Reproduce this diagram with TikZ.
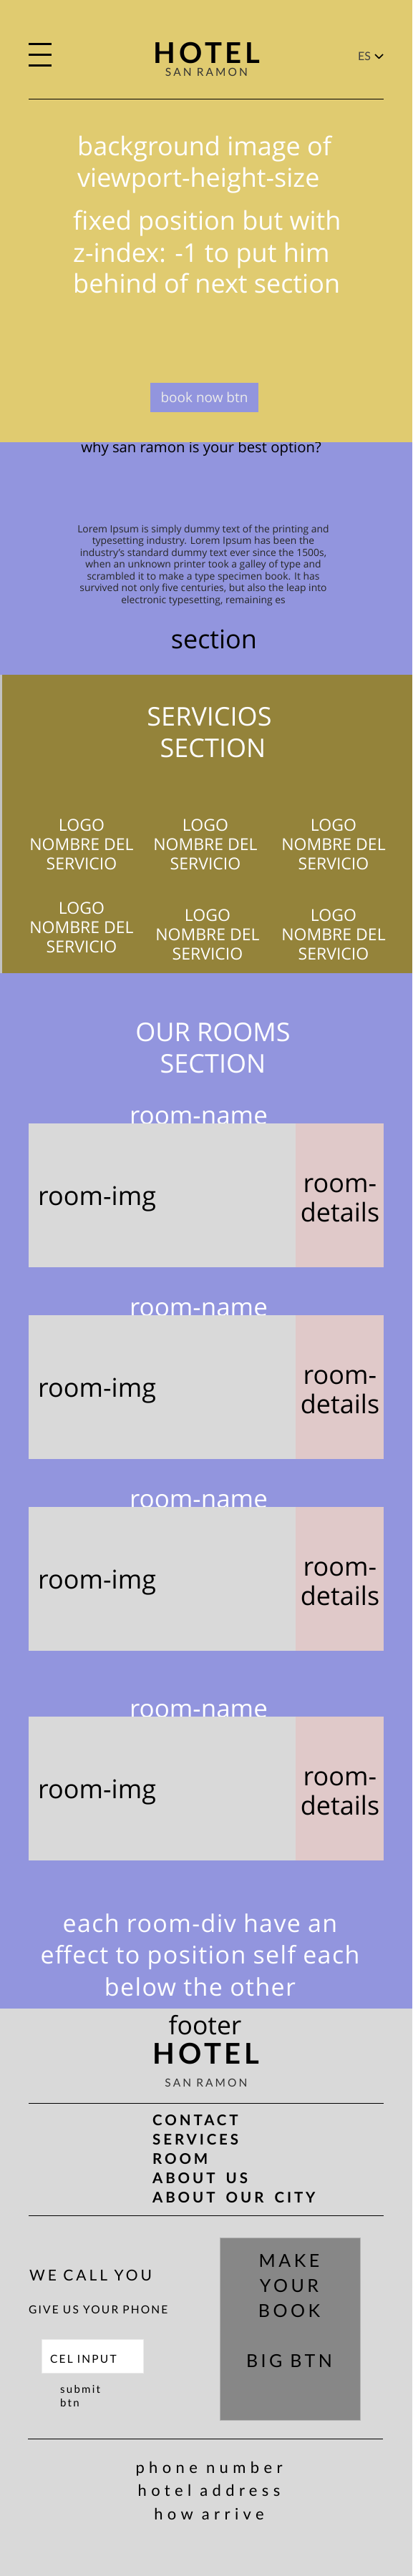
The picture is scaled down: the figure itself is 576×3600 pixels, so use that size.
\documentclass[tikz,border=0pt]{standalone}
\usepackage{fontspec}
\setmainfont{Open Sans}
\newfontfamily\nunito{Lato}
\newfontfamily\menufont{Lato}[LetterSpace=19,WordSpace=1.7]
\usetikzlibrary{positioning}

\definecolor{hero}{HTML}{E0CB70}
\definecolor{lila}{HTML}{9295DE}
\definecolor{olive}{HTML}{94833A}
\definecolor{roomgray}{HTML}{D9D9D9}
\definecolor{roompink}{HTML}{E0C9C9}
\definecolor{bigbtn}{HTML}{878787}

\newcommand\fsz[2]{\fontsize{#1}{#2}\selectfont}
\newcommand\spaced[1]{\addfontfeatures{LetterSpace=#1}}

\tikzset{
  txt/.style={inner sep=0pt, anchor=base},
  herotxt/.style={txt, anchor=base west, text=white, font=\fsz{36}{44}},
  logotxt/.style={txt, text=white, font=\fsz{23}{27}},
  titletxt/.style={txt, text=white, font=\fsz{36}{44}},
  roomname/.style={txt, text=white, font=\fsz{35}{40}},
  roomtxt/.style={txt, font=\fsz{36}{40}},
  menutxt/.style={txt, anchor=base west, font=\menufont\bfseries\fsz{20.5}{27}},
  calltxt/.style={txt, anchor=base west, font=\nunito\spaced{14}\fsz{15.5}{18}},
  bigtxt/.style={txt, font=\nunito\spaced{18}\fsz{25}{30}},
  contacttxt/.style={txt, font=\nunito\spaced{29}\fsz{22}{32}},
}

\begin{document}
\begin{tikzpicture}[x=1pt, y=-1pt]

\useasboundingbox (0,0) rectangle (576,3600);

\fill[lila] (0,618) rectangle (576,943);
\node[txt, font=\fsz{20.3}{24}] (why) at (281,632) {why san ramon is your best option?};
\fill[hero] (0,0) rectangle (576,618);

\foreach \y in {61,76,91}
\draw[line width=3pt] (40,\y) -- (72,\y);
\node[txt, font=\nunito\bfseries\spaced{12}\fsz{40}{40}] (hotel) at (289,88) {HOTEL};
\node[txt, text=black!80, font=\nunito\spaced{20}\fsz{15.5}{16}] (sanramon) at (288.5,106) {SAN RAMON};
\node[txt, anchor=base west, text=black!75, font=\nunito\fsz{16}{16}] (lang) at (500,84) {ES};
\draw[line width=1.6pt, line join=round] (524,76) -- (529.5,81.5) -- (535,76);
\draw[line width=0.8pt] (40,138) -- (536,138);

\foreach \y/\t in {217/background image of, 261/viewport-height-size}
\node[herotxt] (bg\y) at (108,\y) {\t};
\foreach \y/\t in {321/fixed position but with, 366/{z-index: -1 to put him}, 409/behind of next section}
\node[herotxt] (fix\y) at (102,\y) {\t};

\node[fill=lila, minimum width=151pt, minimum height=41pt, inner sep=0pt, text=black!8, font=\fsz{19}{19}] (booknow) at (285.5,555.5) {book now btn};

\foreach \t [count=\i] in {Lorem Ipsum is simply dummy text of the printing and, typesetting industry. Lorem Ipsum has been the, {industry's standard dummy text ever since the 1500s,}, when an unknown printer took a galley of type and, scrambled it to make a type specimen book. It has, {survived not only five centuries, but also the leap into}, {electronic typesetting, remaining es}}
\node[txt, text=black!85, font=\fsz{13.9}{16}] (lorem\i) at (284,{744+16.5*(\i-1)}) {\t};

\node[txt, font=\fsz{36}{36}] (section) at (299,906) {section};

\fill[black!24] (0,943) rectangle (3,1360);
\fill[olive] (3,943) rectangle (576,1360);
\node[titletxt] (serv1) at (292.5,1014) {SERVICIOS};
\node[titletxt] (serv2) at (297.5,1058) {SECTION};

\foreach \x/\y [count=\i] in {114/1161, 287/1161, 466/1161, 114/1277, 290/1287, 466/1287} {
\node[logotxt] (logo\i) at (\x,\y) {LOGO};
\node[logotxt] (nombre\i) at (\x,{\y+27}) {NOMBRE DEL};
\node[logotxt] (servicio\i) at (\x,{\y+54}) {SERVICIO};
}

\fill[lila] (0,1360) rectangle (576,2807);
\node[titletxt] (rooms1) at (297.5,1455) {OUR ROOMS};
\node[titletxt] (rooms2) at (297.5,1499) {SECTION};

\foreach \y [count=\i] in {1570,1838,2106,2399} {
\node[roomname] (rname\i) at (277.5,{\y+1}) {room-name};
\fill[roomgray] (40,\y) rectangle (413,{\y+201});
\fill[roompink] (413,\y) rectangle (536,{\y+201});
\node[roomtxt, anchor=base west] (rimg\i) at (53,{\y+114}) {room-img};
\node[roomtxt] (rdet\i) at (475,{\y+96}) {room-};
\node[roomtxt] (rdetb\i) at (475,{\y+137}) {details};
}

\foreach \y/\t in {2700/each room-div have an, 2744/effect to position self each, 2789/below the other}
\node[txt, text=white, font=\spaced{4}\fsz{34}{44}] (each\y) at (279.5,\y) {\t};

\fill[roomgray] (0,2807) rectangle (576,3600);
\node[txt, font=\fsz{35.5}{36}] (footer) at (286.5,2843) {footer};
\node[txt, font=\nunito\bfseries\spaced{12}\fsz{40}{40}] (fhotel) at (288,2884) {HOTEL};
\node[txt, text=black!80, font=\nunito\spaced{20}\fsz{15.5}{16}] (fsanramon) at (288,2916) {SAN RAMON};
\draw[line width=0.8pt] (40,2939) -- (536,2939);

\foreach \t [count=\i] in {CONTACT, SERVICES, ROOM, ABOUT US, ABOUT OUR CITY}
\node[menutxt] (menu\i) at (213,{2943+27*\i}) {\t};
\draw[line width=0.8pt] (40,3096) -- (536,3096);

\node[txt, anchor=base west, font=\nunito\spaced{19}\fsz{21}{24}] (wecall) at (41,3187) {WE CALL YOU};
\node[calltxt] (givephone) at (40,3233) {GIVE US YOUR PHONE};
\node[draw=black!8, fill=white, minimum width=142pt, minimum height=47pt, inner sep=0pt] (celinput) at (129,3292.5) {};
\node[calltxt] (celtxt) at (70,3302) {CEL INPUT};
\node[txt, anchor=base west, font=\nunito\spaced{15}\fsz{15}{19}] (submit) at (84,3344) {submit};
\node[txt, anchor=base west, font=\nunito\spaced{15}\fsz{15}{19}] (btn) at (84,3363) {btn};

\node[draw=black!30, fill=bigbtn, minimum width=196pt, minimum height=255pt, inner sep=0pt] (bigbtn) at (405,3254.5) {};
\foreach \y/\t in {3168/MAKE, 3203/YOUR, 3238/BOOK, 3308/BIG BTN}
\node[bigtxt] (big\y) at (404,\y) {\t};

\draw[line width=0.8pt] (39,3408) -- (535,3408);
\foreach \y/\t in {3456/phone number, 3488/hotel address, 3521/how arrive}
\node[contacttxt] (contact\y) at (292,\y) {\t};

\end{tikzpicture}
\end{document}
